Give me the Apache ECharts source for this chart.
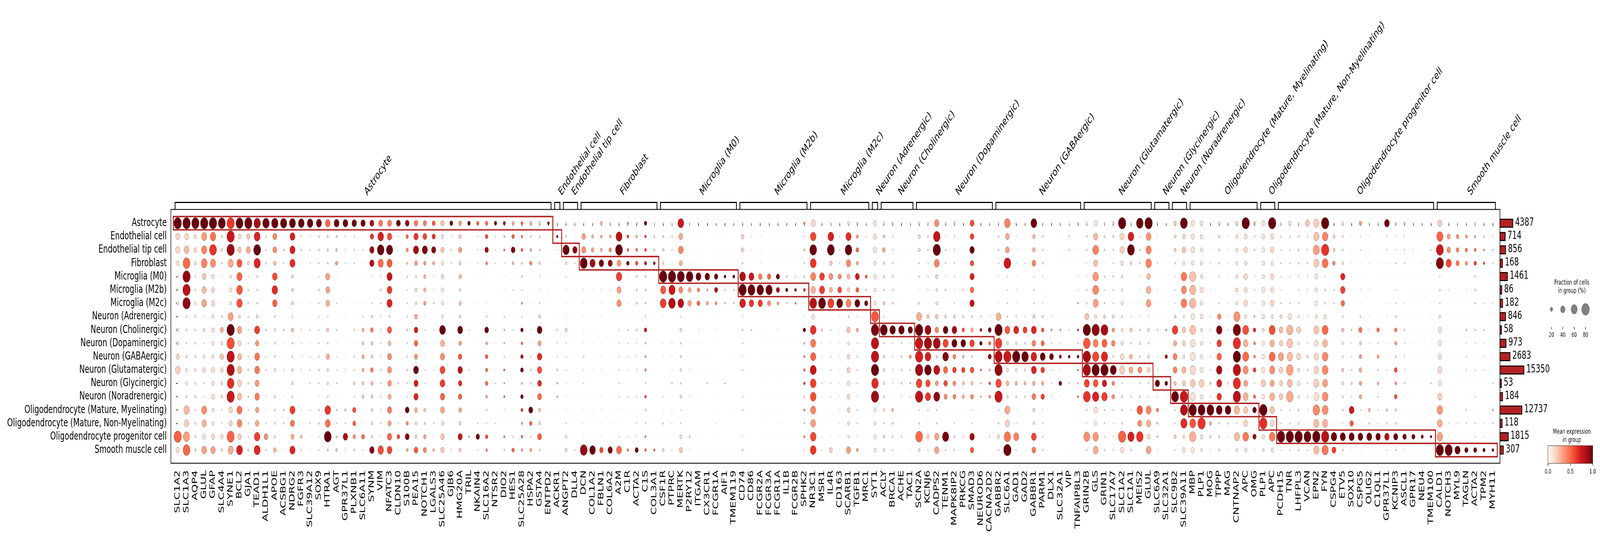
<!DOCTYPE html>
<html><head><meta charset="utf-8">
<style>html,body{margin:0;padding:0;background:#fff;overflow:hidden}#c{width:6190px;height:1378px;transform-origin:0 0}</style>
<script src="https://cdn.jsdelivr.net/npm/echarts@6/dist/echarts.min.js"></script>
</head><body><div id="c"></div>
<script>
const cellTypes=["Astrocyte","Endothelial cell","Endothelial tip cell","Fibroblast","Microglia (M0)","Microglia (M2b)","Microglia (M2c)","Neuron (Adrenergic)","Neuron (Cholinergic)","Neuron (Dopaminergic)","Neuron (GABAergic)","Neuron (Glutamatergic)","Neuron (Glycinergic)","Neuron (Noradrenergic)","Oligodendrocyte (Mature, Myelinating)","Oligodendrocyte (Mature, Non-Myelinating)","Oligodendrocyte progenitor cell","Smooth muscle cell"];
const cellCounts=[4387,714,856,168,1461,86,182,846,58,973,2683,15350,53,184,12737,118,1815,307];
const fractionTicks=[20,40,60,80];
const expressionTicks=[0,0.5,1];
const redsStops=["#fff5f0","#fee0d2","#fcbba1","#fc9272","#fb6a4a","#ef3b2c","#cb181d","#a50f15","#67000d"];

const genes0=["SLC1A2","SLC1A3","AQP4","GLUL","GFAP","SLC4A4","SYNE1","BCL2","GJA1","TEAD1","ALDH1L1","APOE","ACSBG1","NDRG2","FGFR3","SLC39A12","SOX9","HTRA1","AGT","GPR37L1","PLXNB1","SLC6A11","SYNM","VIM","NFATC3","CLDN10","S100B","PEA15","NOTCH1","LGALS3","SLC25A46","GJB6","HMG20A","TRIL","NKAIN4","SLC16A2","NTSR2","DIO2","HES1","SLC25A28","HSPA2","GSTA4","ENTPD2"];
const frac0=[
[78,36,36,25,10,8,14,6,13,16,28,45,1,7,9,7,78,28],
[78,34,45,72,78,78,78,6,7,6,10,14,14,10,54,40,63,72],
[76,18,23,14,4.5,6,10,6,6,7,6,11,9,10,5,9,7,12],
[78,49,50,58,32,38,45,2,14,3,14,23,6,2.5,49,40,25,45],
[78,54,72,50,21,25,28,16,21,18,16,27,20,25,16,16,28,42],
[72,10,14,6,1.3,0,1,7,28,14,30,23,16,13,3,2.5,21,12],
[76,78,78,50,14,20,13,49,78,78,78,78,68,78,32,27,76,50],
[72,23,30,49,50,58,54,14,42,27,36,42,36,40,49,45,32,60],
[76,28,38,16,4.5,6,6,5,3,4.5,4.5,8,7,7,5,6,3.5,10],
[65,58,72,63,7,5,6,14,49,30,45,45,36,42,30,32,54,60],
[65,5,4.5,7,.5,0,0,.5,8,1,3,3,0,2,1,3,34,3],
[65,36,34,20,45,54,42,7,12,8,7,12,1.3,12,7,8,12,23],
[63,1,6,4,.5,0,0,.5,6,1,1,3,0,1,7,6,1,1],
[60,47,49,49,14,13,14,4.5,18,7,8,12,13,6,49,36,28,50],
[56,3.5,6,1,.5,0,1,1,3,2,2,3,0,1,2,1,16,4.5],
[54,2,3,2,.5,0,1,.5,3,1,3,3,3,0,2,4,1,1],
[49,7,7,4.5,3,7,4,3,4,4,4,8,4,2,7,7,3,4],
[45,10,9,7,38,36,34,4.5,18,7,30,12,12,6,56,47,72,9],
[47,9,13,18,1,0,3,1,4,1,2,3,4,1,6,4,9,13],
[45,4.5,3,3,.5,0,.5,1,0,.5,1,3,0,0,10,6,42,3],
[42,3,3,4,.5,0,1,1,4,1,4,3,12,3,28,25,21,7],
[40,1,3,1,.5,0,1,4,18,13,20,18,14,16,1,1,25,3],
[36,30,40,40,2,0,3,10,23,16,14,23,18,14,12,12,10,42],
[36,56,68,50,4,8,6,3,3,3,4,6,4,4,3,6,3,54],
[36,42,63,49,50,45,50,8,38,25,36,36,32,28,38,28,40,45],
[36,3,1,1,.5,0,.5,0,1,.5,1,1,6,0,1,3,23,2],
[34,20,18,9,6,4,4,6,8,4,4,7,4,4,34,18,36,13],
[32,40,50,25,10,18,12,25,32,32,28,47,38,40,25,14,18,34],
[28,34,50,20,18,20,21,1,2,1,1,2,3,1,16,9,21,28],
[25,28,38,16,3,2,6,.5,3,1,.5,3,0,1,1,4,2,14],
[28,18,28,18,21,20,18,16,58,36,40,47,45,40,36,21,32,30],
[25,3,4,3,.5,0,0,.5,0,.5,.5,1,0,0,0,0,1,3],
[25,18,27,18,21,12,20,13,47,23,30,42,30,30,23,16,38,18],
[21,1,1,1,0,0,0,0,2,0,.5,3,0,1,1,0,7,.5],
[18,3,3,2,.5,0,1,0,0,.5,1,0,0,0,.5,3,30,2],
[20,21,30,14,.5,0,1,4.5,34,13,21,18,21,13,5,3,20,13],
[20,3,2,3,0,0,0,.5,2,1,.5,1,3,1,0,3,1,.5],
[18,7,9,2,1,1,.5,4,7,6,4,9,6,9,2,.5,9,6],
[16,21,34,13,.5,3,1,.5,3,.5,.5,1,0,0,0,.5,4,20],
[14,12,14,9,6,3,10,4,20,13,20,23,9,21,16,10,13,12],
[16,7,13,18,1,1,1,1,2,1,4,6,7,.5,36,21,5,16],
[16,7,7,12,3,2,6,14,45,27,42,40,34,36,18,13,36,9],
[14,.5,.5,.5,.5,1,.5,0,0,.5,.5,.5,0,0,.5,0,.5,.5]];
const expr0=[
[100,15,15,12,8,8,12,8,15,15,15,18,40,10,8,8,53,12],
[100,17,25,50,92,80,92,10,10,8,8,10,8,8,25,18,33,50],
[100,12,15,12,8,8,8,8,6,8,8,10,8,8,8,8,8,12],
[100,35,42,42,22,25,32,15,12,8,10,12,8,8,38,28,12,33],
[100,47,65,38,12,15,15,10,12,10,10,12,10,12,10,10,15,32],
[100,12,12,10,10,0,10,10,28,12,22,15,12,12,8,8,12,12],
[64,76,90,30,10,10,10,33,100,57,80,85,68,77,15,15,52,30],
[100,15,22,55,52,55,57,10,33,15,25,27,17,25,48,42,20,72],
[100,20,30,15,8,8,8,8,8,8,8,8,8,8,8,8,8,10],
[88,70,100,70,8,8,8,15,62,35,47,45,35,44,33,30,62,70],
[100,8,8,8,8,0,0,8,8,8,8,8,0,8,8,8,38,8],
[100,40,38,25,58,68,52,12,12,8,8,12,20,12,8,8,12,27],
[100,10,10,10,10,0,0,10,10,10,10,10,0,10,10,10,10,10],
[100,72,72,68,18,18,17,10,22,10,10,12,12,10,62,47,30,70],
[100,10,10,10,10,0,10,10,10,10,10,10,0,10,10,10,22,10],
[100,10,10,10,10,0,10,10,10,10,10,10,10,0,10,10,10,10],
[100,10,10,10,10,10,10,10,10,10,10,10,10,10,10,10,10,10],
[50,10,10,10,33,33,28,10,20,10,28,12,10,10,65,48,100,12],
[100,18,22,33,10,0,10,10,10,10,10,10,10,10,15,10,20,22],
[100,10,10,10,10,0,10,10,0,10,10,10,0,0,20,10,85,10],
[100,10,10,10,10,0,10,10,10,10,10,10,20,10,58,53,38,15],
[100,10,10,10,10,0,10,10,28,18,30,28,22,20,10,10,50,10],
[85,65,90,82,10,0,10,15,45,20,18,45,25,20,18,15,18,95],
[45,72,100,50,10,8,10,10,10,10,10,10,10,10,10,10,10,58],
[45,58,100,54,78,64,70,12,55,25,40,38,35,28,45,33,50,60],
[100,10,10,10,10,0,10,0,10,10,10,10,10,0,10,10,60,10],
[92,50,40,20,12,10,10,8,12,10,10,8,10,10,100,42,95,32],
[45,65,88,33,8,15,10,30,75,50,35,100,72,70,28,12,15,55],
[45,60,95,35,28,28,33,10,10,50,10,10,10,10,22,12,33,42],
[55,65,95,33,10,10,10,10,10,10,10,10,0,10,10,10,10,25],
[22,12,22,12,13,10,12,10,100,28,38,58,62,52,32,12,22,20],
[100,10,10,10,10,0,0,10,0,10,10,10,0,0,0,0,10,10],
[35,22,35,18,25,10,20,10,100,32,55,82,68,52,32,18,80,20],
[100,10,10,10,0,0,0,0,10,0,10,10,0,10,10,0,30,10],
[55,10,10,10,10,0,10,0,0,10,10,0,0,0,10,10,100,10],
[50,60,90,47,10,0,10,15,100,33,55,50,50,33,12,12,60,42],
[100,10,10,10,0,0,0,10,10,10,10,10,10,10,0,10,10,10],
[92,40,50,10,10,10,10,18,25,30,18,55,45,50,10,10,50,20],
[35,53,95,30,10,10,10,10,10,10,10,10,0,0,0,10,12,52],
[55,45,55,15,18,8,35,12,100,50,90,100,22,100,65,35,50,35],
[30,15,30,45,10,10,10,10,10,10,10,10,12,10,100,52,10,33],
[18,12,12,15,10,10,8,18,100,33,68,58,68,50,22,15,52,12],
[98,20,20,20,20,20,20,0,0,20,20,20,0,0,20,0,20,20]];

const genes1=["ACKR1"];
const frac1=[[2,12,2,1,1,0,0,1,5,3,3,7,7,7,1,0,1,1]];
const expr1=[[30,95,10,10,10,0,0,10,15,12,12,20,30,30,10,0,10,10]];

const genes2=["ANGPT2","DLL4"];
const frac2=[[7,7,63,12,4,1,1,1,18,2,3,2,1,1,1,3,14,18],[1,1,40,3,.5,.5,.5,.5,.5,.5,.5,.5,.5,.5,.5,.5,.5,3]];
const expr2=[[10,10,100,12,10,10,10,10,15,10,10,10,10,10,10,10,12,15],[10,10,95,8,10,10,10,10,10,10,10,10,10,10,10,10,10,10]];

const genes3=["DCN","COL1A2","FBLN1","COL6A2","A2M","C1R","ACTA2","C1S","COL3A1"];
const frac3=[
[4,32,38,72,.5,2,1,1,1,1,6,2,2,.5,1,1,1,72],
[1,16,23,50,.5,1,.5,.5,.5,1,1,1,0,.5,1,.5,.5,56],
[18,13,16,42,.5,2,1,1,0,.5,1,1,0,1,1,.5,1,30],
[5,14,20,38,1,2,1,1,0,.5,1,1,0,1,.5,1,1,40],
[7,60,72,36,54,36,40,1,3,2,3,4,3,3,1,.5,4,47],
[10,14,13,21,1,0,1,1,4,3,3,2,0,3,.5,0,3,11],
[7,12,16,20,7,8,8,1,7,2,2,3,0,4,.5,3,3,27],
[21,13,14,18,7,7,7,4,21,7,10,12,3,13,6,4,10,13],
[.5,6,6,14,0,.5,.5,.5,0,.5,.5,.5,0,.5,0,.5,.5,10]];
const expr3=[
[10,35,38,100,10,10,10,10,10,10,8,10,50,10,10,10,10,90],
[10,28,32,88,10,10,10,10,10,10,10,10,0,10,10,10,10,100],
[27,28,30,97,10,10,10,10,0,10,10,10,0,10,10,10,10,60],
[12,30,42,92,10,10,10,10,0,10,10,10,0,10,10,10,10,95],
[12,82,100,35,62,35,37,10,10,10,10,10,10,10,10,10,10,50],
[45,65,55,100,10,0,10,10,12,10,10,10,0,20,10,0,10,50],
[18,30,45,58,15,15,15,10,12,10,10,10,0,15,10,10,10,100],
[100,62,62,80,15,15,15,10,75,25,32,40,30,60,15,10,40,52],
[10,20,25,100,0,10,10,10,0,10,10,10,0,10,0,10,10,55]];

const genes4=["CSF1R","PTPRC","MERTK","P2RY12","ITGAM","CX3CR1","FCGR1A","AIF1","TMEM119"];
const frac4=[
[4,10,12,10,78,50,58,1,0,1,1,0,0,3,1,7,.5,14],
[2,4,4,1,78,63,68,.5,0,2,2,2,5,1,2,2,.5,2],
[58,36,45,27,72,36,56,3,16,7,8,12,6,13,2,4,18,27],
[4,1,1,1,68,25,32,0,0,1,1,2,0,3,0,0,10,2],
[1,.5,.5,.5,47,20,25,.5,2,1,.5,.5,0,.5,0,0,.5,1],
[1,0,0,0,42,10,18,0,0,0,.5,.5,3,0,0,0,0,.5],
[.5,.5,.5,.5,30,27,14,.5,1,.5,0,.5,.5,.5,.5,1,.5,.5],
[.5,.5,.5,.5,14,4.5,6,0,0,0,0,0,3,0,0,0,0,.5],
[.5,0,.5,.5,16,6,6,0,0,0,.5,0,0,0,.5,0,0,.5]];
const expr4=[
[12,12,12,10,100,55,62,10,0,10,10,0,0,10,10,8,10,15],
[10,10,10,10,100,75,85,10,0,10,10,10,10,10,10,10,10,10],
[75,30,42,27,100,40,83,10,15,10,10,10,10,12,10,10,15,20],
[12,10,10,10,100,30,33,0,0,10,10,10,0,10,0,0,12,10],
[10,10,10,10,100,42,50,10,10,10,10,10,0,10,0,0,10,10],
[10,0,0,0,100,28,30,0,0,0,10,10,50,0,0,0,0,10],
[10,10,10,10,100,85,40,10,10,10,0,10,10,10,10,10,10,10],
[10,10,10,10,100,20,25,0,0,0,0,0,50,0,0,0,0,10],
[10,0,10,10,100,15,18,0,0,0,10,0,0,0,10,0,0,10]];

const genes5=["CD74","CD86","FCGR2A","FCGR3A","FCGR1A","IL1B","FCGR2B","SPHK2"];
const frac5=[
[7,21,21,7,58,78,56,3,7,4,2,4,0,4,4,0,2,8],
[.5,2,2,.5,47,72,42,0,4,.5,.5,.5,0,.5,.5,0,.5,.5],
[1,1,1,1,32,68,40,.5,.5,.5,.5,.5,.5,.5,.5,.5,.5,.5],
[.5,.5,.5,.5,30,65,28,.5,0,.5,.5,.5,0,.5,.5,0,.5,.5],
[.5,.5,.5,.5,28,28,14,.5,1,.5,.5,.5,.5,.5,.5,.5,.5,.5],
[.5,.5,.5,.5,6,18,4,.5,0,.5,.5,.5,0,.5,0,0,.5,.5],
[.5,.5,.5,.5,4,14,8,.5,0,.5,.5,.5,0,.5,0,0,.5,.5],
[10,4,8,5,7,14,2,2,20,8,10,12,12,6,10,6,10,3]];
const expr5=[
[12,17,17,10,85,100,72,10,10,10,10,10,0,10,10,0,10,10],
[10,10,10,10,75,100,65,0,8,10,10,10,0,10,10,0,10,10],
[10,10,10,10,45,100,62,10,10,10,10,10,10,10,10,10,10,10],
[10,10,10,10,50,100,38,10,0,10,10,10,0,10,10,0,10,10],
[10,10,10,10,100,88,35,10,10,10,10,10,10,10,10,10,10,10],
[10,10,10,10,25,100,18,10,0,10,10,10,0,10,0,0,10,10],
[10,10,10,10,30,100,55,10,0,10,10,10,0,10,0,0,10,10],
[50,12,25,12,15,68,10,10,100,25,45,50,68,15,45,15,45,10]];

const genes6=["NR3C1","MSR1","IL4R","CD163","SCARB1","TGFB1","MRC1"];
const frac6=[
[40,54,70,58,49,42,70,25,56,49,50,60,56,56,49,45,56,56],
[1,1,1,0,45,49,72,0,8,1,1,1,4,1,0,0,1,2],
[4,56,72,21,36,27,60,.5,3,1,3,3,3,3,.5,.5,1,25],
[1,3,4,2,27,34,58,1,1,1,1,1,1,1,1,1,1,1],
[14,50,68,42,27,21,49,6,30,14,23,27,21,25,23,16,12,38],
[9,16,23,16,36,25,47,3,18,3,6,4,4,3,4,5,3,16],
[1,3,1,0,16,7,28,0,0,1,1,1,0,.5,1,0,1,0]];
const expr6=[
[14,60,100,65,42,28,82,10,66,45,52,78,62,58,42,33,60,65],
[10,10,10,0,62,62,100,0,20,10,10,10,10,10,0,0,10,10],
[10,72,100,20,38,28,62,10,10,10,10,10,10,10,10,10,10,18],
[10,10,10,10,42,58,100,10,10,10,10,10,10,10,10,10,10,10],
[12,68,100,40,25,18,42,10,22,8,15,18,10,15,18,10,8,35],
[20,38,50,35,75,52,100,10,32,10,10,10,10,10,10,10,10,35],
[10,10,10,0,55,18,100,0,0,10,10,10,0,10,10,0,10,0]];

const genes7=["SYT1"];
const frac7=[[28,28,28,21,21,18,20,72,78,78,78,78,68,78,20,13,20,18]];
const expr7=[[10,10,10,8,8,8,8,55,95,80,80,100,68,90,8,8,8,8]];

const genes8=["ACLY","BRCA1","ACHE","TAC1"];
const frac8=[
[10,13,23,10,10,6,14,3,72,6,12,13,12,8,10,5,13,13],
[10,5,4,7,7,5,8,1,54,2,4,3,2,1,14,8,6,5],
[1,.5,1,1,0,0,1,1,54,4,8,6,8,3,1,1,5,.5],
[1,.5,1,0,.5,0,0,1,40,2,16,4,6,3,1,0,.5,1]];
const expr8=[
[15,22,32,15,12,8,20,8,100,8,12,15,12,8,10,8,15,15],
[20,8,8,8,8,8,10,8,100,8,8,8,8,8,25,15,8,8],
[8,8,8,8,0,0,8,8,100,8,12,8,12,8,8,8,8,8],
[8,8,8,0,8,0,0,8,100,8,40,8,25,8,8,0,8,8]];

const genes9=["SCN2A","KCNJ6","CADPS2","TENM1","MAPK8IP2","PRKCG","SMAD3","NEUROD6","CACNA2D2"];
const frac9=[
[10,18,16,6,6,1,8,49,78,78,78,78,56,78,4,8,72,14],
[6,7,4,2,3,3,1,20,60,78,56,68,42,50,4,1,20,3],
[42,68,78,47,20,12,14,23,32,72,12,60,25,60,6,6,40,40],
[8,2,4,4,2,7,1,13,45,50,56,40,32,28,1,0,63,4],
[12,5,4,4,3,2,3,14,45,49,25,32,25,25,1,3,9,5],
[2,1,1,1,1,4,1,8,21,45,14,28,14,18,1,0,4,.5],
[36,32,42,30,38,32,40,7,21,42,7,32,18,25,2,4,42,30],
[1,0,1,0,1,1,1,4,14,20,1,9,6,6,.5,0,0,.5],
[2,0,0,0,0,0,0,2,25,18,27,9,13,13,0,0,5,0]];
const expr9=[
[10,15,12,5,8,8,8,30,100,78,72,90,60,80,8,8,50,12],
[8,10,8,8,8,8,8,20,90,88,72,100,58,65,8,8,15,8],
[38,78,100,42,15,10,12,20,42,88,12,80,35,92,8,5,32,32],
[10,8,8,8,8,8,8,15,100,60,95,50,58,40,8,0,98,8],
[18,8,8,8,8,8,8,18,88,100,40,62,38,40,8,8,10,8],
[10,8,8,8,8,8,8,12,55,100,25,62,25,28,8,0,8,8],
[58,62,100,58,72,50,80,10,30,62,8,58,20,38,8,8,90,55],
[8,0,8,0,8,8,8,12,95,100,8,55,28,30,8,0,0,8],
[8,0,0,0,0,0,0,8,100,52,92,28,62,38,0,0,10,0]];

const genes10=["GABBR2","SLC6A1","GAD1","GAD2","GABBR1","PARM1","DLX1","SLC32A1","VIP","TNFAIP8L3"];
const frac10=[
[7,7,7,4,2,1,1,45,78,68,78,78,54,78,4,7,18,5],
[58,34,34,70,3,3,4,5,47,14,78,18,25,13,49,40,65,78],
[4,2,1,2,1,3,1,6,47,10,78,14,18,8,1,2,49,4],
[2,1,1,3,0,0,0,2,36,8,68,10,14,6,0,0,0,1],
[58,21,23,34,4,5,5,16,47,34,56,47,21,34,14,10,45,34],
[3,7,6,7,3,1,3,10,21,28,47,32,18,30,2,4,4,5],
[.5,0,0,0,0,0,0,2,10,4,36,3,4,2,0,0,0,0],
[.5,.5,.5,.5,0,0,0,.5,8,2,18,2,23,1,0,0,0,0],
[0,5,4,.5,0,0,0,.5,3,0,14,1,3,0,0,0,0,.5],
[6,.5,1,.5,2,2,6,1,10,5,14,8,6,8,1,.5,.5,.5]];
const expr10=[
[10,8,8,8,8,8,8,28,100,62,85,92,58,77,8,8,15,8],
[42,30,33,75,8,8,8,8,55,10,75,12,25,8,30,18,47,100],
[8,8,8,8,8,8,8,5,70,10,100,12,30,8,8,8,42,8],
[8,8,8,8,0,0,0,8,62,10,100,12,28,8,0,0,0,8],
[100,27,27,42,8,8,8,20,70,42,72,70,30,45,20,12,60,45],
[8,10,8,8,8,8,8,18,58,50,100,62,30,62,8,8,8,8],
[10,0,0,0,0,0,0,10,30,10,100,10,10,10,0,0,0,0],
[10,10,10,10,0,0,0,10,40,10,90,10,100,10,0,0,0,0],
[0,15,20,10,0,0,0,10,10,0,100,10,10,0,0,0,0,10],
[30,10,10,10,10,10,40,10,70,15,100,45,25,55,10,10,10,10]];

const genes11=["GRIN2B","GLS","GRIN1","SLC17A7","SLC1A2","SLC1A1","MEIS2","GLUL"];
const frac11=[
[8,7,5,2,3,4,7,36,78,70,78,78,49,72,5,3,60,5],
[30,38,58,38,54,58,49,20,78,49,63,78,45,63,32,21,54,47],
[6,7,7,1,5,3,5,14,72,49,63,78,40,54,5,4,4,8],
[12,8,6,4,7,5,5,14,20,32,7,60,21,23,4,3,4,4],
[78,38,38,23,12,12,16,7,14,18,32,49,3,10,8,7,78,30],
[7,56,72,12,1,0,1,2,20,7,23,34,1,6,3,0,63,8],
[68,4,7,7,2,2,1,2,8,12,6,34,5,6,54,36,68,.5],
[78,47,50,56,32,42,45,4,16,7,14,25,6,4,50,40,25,45]];
const expr11=[
[8,8,8,8,8,8,8,22,100,55,88,87,60,65,8,8,38,8],
[10,25,42,22,36,40,33,10,93,42,60,100,55,72,12,8,35,30],
[8,8,8,8,8,8,8,18,88,52,70,100,75,62,8,8,8,8],
[15,10,8,8,8,8,8,15,37,42,8,100,42,38,8,8,8,8],
[100,17,18,12,8,8,8,8,10,10,14,18,30,8,8,6,52,12],
[8,72,100,15,8,0,8,8,20,10,25,30,8,8,8,0,72,8],
[100,8,8,8,8,8,8,8,10,12,8,40,8,8,55,38,65,8],
[100,37,42,42,25,28,33,8,12,8,12,15,8,8,40,28,12,33]];

const genes12=["SLC6A9","SLC32A1"];
const frac12=[
[7,2,1,3,.5,2,1,.5,4,1,2,4,40,2,18,8,8,2],
[1,.5,.5,.5,.5,.5,.5,.5,8,.5,20,1,23,1,.5,0,0,0]];
const expr12=[
[18,10,10,10,10,10,10,10,10,10,10,10,100,10,45,20,18,10],
[10,10,10,10,10,10,10,10,40,10,85,10,100,10,10,0,0,0]];

const genes13=["SLC9B2","SLC39A11"];
const frac13=[
[20,13,14,7,2,4,2,13,54,27,36,36,20,72,6,5,18,3],
[72,25,30,20,54,47,54,10,30,25,16,36,28,78,72,63,14,25]];
const expr13=[
[18,15,20,8,8,8,8,15,62,30,42,42,22,100,8,8,20,8],
[100,15,22,10,45,40,45,8,22,18,10,28,20,75,85,68,10,13]];

const genes14=["MBP","PLP1","MOG","TPPP","MAG","CNTNAP2","APC","OMG"];
const frac14=[
[30,28,32,23,63,60,63,30,58,42,47,54,45,47,78,58,65,28],
[23,21,20,20,18,27,21,23,14,20,20,27,45,21,72,78,21,13],
[1,1,1,2,1,2,0,3,3,3,3,3,10,3,72,18,10,2],
[13,10,8,7,4,0,5,30,54,42,42,54,47,42,58,7,10,9],
[2,1,1,1,1,0,1,1,3,1,1,1,7,1,56,6,2,1],
[18,14,16,14,16,20,16,63,78,78,78,78,76,78,50,3,49,14],
[78,25,30,20,30,25,34,18,60,42,60,50,36,47,38,34,56,21],
[12,5,6,0,4,4,3,9,20,14,14,23,4,18,32,.5,28,3]];
const expr14=[
[10,10,12,8,22,25,25,8,22,12,12,15,20,12,100,55,28,8],
[12,10,10,10,12,12,10,12,10,10,8,10,18,8,100,65,12,8],
[8,8,8,8,8,8,0,8,8,8,8,8,15,8,100,28,12,8],
[18,15,12,10,8,0,8,40,95,62,52,88,72,65,100,10,12,10],
[8,8,8,8,8,0,8,8,8,8,8,8,10,8,100,12,8,8],
[15,12,12,10,10,12,10,37,97,67,100,82,67,82,27,8,25,10],
[100,12,15,10,15,12,15,10,57,28,50,38,32,28,20,15,45,10],
[30,8,8,0,12,10,8,25,72,45,42,62,10,52,100,8,92,8]];

const genes15=["PLP1","APC"];
const frac15=[
[27,23,21,21,21,27,23,23,16,23,23,28,40,23,78,76,21,13],
[78,27,30,20,30,25,32,18,60,40,58,50,36,45,40,32,56,21]];
const expr15=[
[10,10,8,8,8,8,8,10,10,8,8,10,20,8,100,68,10,8],
[100,12,15,10,15,12,17,10,57,28,50,38,32,28,22,15,45,10]];

const genes16=["PCDH15","TNR","LHFPL3","VCAN","EPN2","FYN","CSPG4","ETV5","SOX10","CSPG5","OLIG2","C1QL1","GPR37L1","KCNIP3","ASCL1","GPR17","NEU4","TMEM100"];
const frac16=[
[5,4,3,4,3,2,4,16,32,28,49,32,27,32,4,3,78,2],
[20,5,4,3,3,0,4,30,63,56,54,70,45,70,4,4,78,4],
[7,7,8,7,4,4,4,10,34,13,36,18,23,13,10,8,78,8],
[36,5,4,7,3,3,0,4,0,3,12,6,5,5,2,1,72,4],
[49,49,63,47,25,20,25,16,49,30,40,42,49,47,68,49,78,49],
[78,54,78,58,3,8,7,21,58,45,56,56,47,56,58,49,78,63],
[1,14,14,21,.5,4,4,1,0,0,1,1,0,0,0,.5,54,36],
[10,7,8,12,40,42,32,5,18,10,6,16,14,8,7,3,50,7],
[1,1,1,1,.5,0,0,.5,7,2,3,4,10,3,45,30,49,1],
[21,3,3,1,1,2,1,6,28,14,21,23,21,21,3,1,45,1],
[3,1,1,1,0,1,0,1,3,1,1,0,0,0,16,7,47,.5],
[4,1,1,1,.5,0,0,1,21,4,16,5,13,4,3,2,42,1],
[45,4,4,1,.5,0,1,2,0,1,1,3,0,0,10,6,42,3],
[8,2,2,4,.5,3,3,8,20,16,6,25,14,23,10,8,38,5],
[10,3,4,4,1,0,1,1,6,2,3,3,6,1,.5,0,30,2],
[.5,.5,2,.5,.5,.5,.5,.5,.5,1,.5,.5,.5,.5,1,.5,27,.5],
[.5,.5,.5,1,.5,.5,.5,.5,.5,.5,.5,.5,.5,0,.5,.5,18,.5],
[3,.5,3,2,.5,.5,.5,.5,.5,.5,.5,.5,4,.5,.5,.5,12,.5]];
const expr16=[
[8,8,8,8,8,8,8,12,25,18,33,18,18,20,8,8,100,8],
[10,8,8,8,8,0,8,12,27,22,25,33,25,30,8,8,100,8],
[8,8,8,8,8,8,8,8,18,8,15,10,10,8,8,8,100,8],
[20,8,8,8,8,8,0,8,0,8,10,8,8,8,8,8,100,8],
[18,22,33,20,10,8,8,8,22,12,15,17,18,13,40,24,100,25],
[100,42,66,47,8,8,8,10,50,25,40,40,33,38,38,27,82,45],
[10,18,20,42,10,10,10,10,0,0,10,10,0,0,0,10,100,62],
[12,8,8,12,70,62,48,8,25,12,8,25,15,10,8,8,100,10],
[10,10,10,10,10,0,0,10,10,10,10,10,15,10,75,55,100,10],
[35,10,10,10,10,10,10,10,48,22,35,30,33,30,10,10,100,10],
[10,10,10,10,0,10,0,10,10,10,10,0,0,0,28,15,100,10],
[10,10,10,10,10,0,0,10,50,10,35,10,30,10,10,10,100,10],
[100,10,10,10,10,0,10,10,0,10,10,10,0,0,20,10,85,10],
[20,10,10,10,10,10,10,12,45,38,12,58,38,58,15,12,100,10],
[22,10,10,10,10,0,10,10,10,10,10,10,12,10,10,0,100,10],
[10,10,10,10,10,10,10,10,10,10,10,10,10,10,10,10,100,10],
[10,10,10,10,10,10,10,10,10,10,10,10,10,0,10,10,100,10],
[10,10,10,10,10,10,10,10,10,10,10,10,30,10,10,10,100,10]];

const genes17=["CALD1","NOTCH3","MYL9","TAGLN","ACTA2","TPM2","MYH11"];
const frac17=[
[35,63,73,76,3.7,7,3.5,14,28,26,28,35,26,38,55,46,53,76],
[5,28,32,50,.5,2,.5,.5,0,.5,.5,.5,0,0,.5,2,1,76],
[1,21,23,27,.5,1,1,.5,1,.5,.5,1,1,0,.5,2,.5,50],
[3,14,18,18,1,2,.5,.5,7,2,3,3,.5,.5,5,3,.5,28],
[5,10,15,21,5,7,5,.5,6,2,1,3,.5,3,.5,3,3,26],
[3,5,9,12,.5,0,2,.5,5,1,2,2,.5,.5,0,1,2,18],
[1,3,5,3,.5,.5,2,0,0,0,2,.5,3,.5,8,4,.5,14]];
const expr17=[
[18,52,75,95,8,8,8,10,12,10,12,15,10,18,35,28,33,100],
[10,33,38,60,10,10,10,10,0,10,10,10,0,0,10,10,10,100],
[10,37,42,48,10,10,10,10,10,10,10,10,10,0,10,10,10,100],
[10,38,48,42,10,10,10,10,12,10,10,10,10,10,10,10,10,100],
[18,32,48,60,15,15,15,10,12,10,10,10,10,10,10,10,10,100],
[12,22,38,55,10,0,10,10,15,10,10,10,10,10,0,10,10,100],
[10,18,20,10,10,10,10,0,0,0,10,10,10,10,30,12,10,100]];

const geneGroups=[genes0,genes1,genes2,genes3,genes4,genes5,genes6,genes7,genes8,genes9,genes10,genes11,genes12,genes13,genes14,genes15,genes16,genes17];
const fracGroups=[frac0,frac1,frac2,frac3,frac4,frac5,frac6,frac7,frac8,frac9,frac10,frac11,frac12,frac13,frac14,frac15,frac16,frac17];
const exprGroups=[expr0,expr1,expr2,expr3,expr4,expr5,expr6,expr7,expr8,expr9,expr10,expr11,expr12,expr13,expr14,expr15,expr16,expr17];

const FONT='"DejaVu Sans"';
const FS=28.5;
const genes=geneGroups.flat();
const spans=[];
const dots=[];
let cursor=0;
geneGroups.forEach((g,gi)=>{
  spans.push([cursor,cursor+g.length-1,gi,cellTypes[gi]]);
  g.forEach((name,k)=>{
    const F=fracGroups[gi][k],E=exprGroups[gi][k];
    if(F.length!==18||E.length!==18) console.error('bad row',name,F.length,E.length);
    F.forEach((f,r)=>{ if(f>0) dots.push([cursor+k,r,f,E[r]/100]); });
  });
  cursor+=g.length;
});
const geneIdx=genes.map((_,i)=>i);
const rowIdx=cellTypes.map((_,i)=>i);
const sizeOf=f=>1.13*Math.pow(f,0.75);

const X_MIN=-0.776,X_MAX=149.81,Y_MIN=-1.033,Y_MAX=17.987;
const G={left:661,top:536.4,width:5142,height:650.1};
const tick={show:true,length:7,lineStyle:{color:'#222',width:2}};

const option={
  backgroundColor:'#fff',animation:false,
  title:[
    {text:'Fraction of cells\nin group (%)',left:6076,top:709,textAlign:'center',textStyle:{fontFamily:FONT,fontSize:17.3,fontWeight:'normal',color:'#000',lineHeight:21}},
    {text:'Mean expression\nin group',left:6076,top:1091,textAlign:'center',textStyle:{fontFamily:FONT,fontSize:17.3,fontWeight:'normal',color:'#000',lineHeight:21}}
  ],
  visualMap:[{show:false,seriesIndex:0,dimension:3,min:0,max:1,inRange:{color:redsStops}}],
  grid:[
    {left:G.left,top:G.top,width:G.width,height:G.height,show:true,borderColor:'#222',borderWidth:2.5,backgroundColor:'transparent'},
    {left:G.left,top:518.5,width:G.width,height:18},
    {left:5803,top:G.top,width:150,height:G.height},
    {left:5958,top:747,width:220,height:90.6},
    {left:5989,top:1142,width:172.7,height:44.5,show:true,borderColor:'#222',borderWidth:2,backgroundColor:'transparent'}
  ],
  xAxis:[
    {gridIndex:0,type:'value',min:X_MIN,max:X_MAX,splitLine:{show:false},axisLine:{show:false},
     axisTick:Object.assign({customValues:geneIdx},tick),
     axisLabel:{customValues:geneIdx,rotate:90,margin:18,fontFamily:FONT,fontSize:FS,color:'#000',formatter:v=>genes[v]}},
    {gridIndex:1,type:'value',min:X_MIN,max:X_MAX,show:false},
    {gridIndex:2,type:'value',min:0,max:200,show:false},
    {gridIndex:3,type:'value',min:0,max:100,splitLine:{show:false},axisLine:{show:false},
     axisTick:{show:true,customValues:fractionTicks,length:6,lineStyle:{color:'#222',width:2}},
     axisLabel:{customValues:fractionTicks,margin:13,fontFamily:FONT,fontSize:16,color:'#000'}},
    {gridIndex:4,type:'value',min:0,max:1,splitLine:{show:false},axisLine:{show:false},
     axisTick:{show:true,customValues:expressionTicks,length:6,lineStyle:{color:'#222',width:2}},
     axisLabel:{customValues:expressionTicks,margin:14,fontFamily:FONT,fontSize:16,color:'#000',formatter:v=>v.toFixed(1),alignMinLabel:'center',alignMaxLabel:'center'}}
  ],
  yAxis:[
    {gridIndex:0,type:'value',inverse:true,min:Y_MIN,max:Y_MAX,splitLine:{show:false},axisLine:{show:false},
     axisTick:Object.assign({customValues:rowIdx},tick),
     axisLabel:{customValues:rowIdx,margin:16,fontFamily:FONT,fontSize:FS,color:'#000',formatter:v=>cellTypes[v]}},
    {gridIndex:1,type:'value',min:0,max:1,show:false},
    {gridIndex:2,type:'value',inverse:true,min:Y_MIN,max:Y_MAX,show:false},
    {gridIndex:3,type:'value',min:0,max:1,show:false},
    {gridIndex:4,type:'value',min:0,max:1,show:false}
  ],
  series:[
    {type:'scatter',xAxisIndex:0,yAxisIndex:0,data:dots,progressive:0,large:false,silent:true,z:3,
     symbolSize:v=>sizeOf(v[2]),itemStyle:{opacity:1,borderColor:'#555',borderWidth:0.7}},
    {type:'custom',xAxisIndex:0,yAxisIndex:0,data:spans.map(s=>s.slice(0,3)),silent:true,z:4,clip:false,
     renderItem:(p,api)=>{
       const a=api.coord([api.value(0)-0.5,api.value(2)-0.5]),b=api.coord([api.value(1)+0.5,api.value(2)+0.5]);
       return {type:'rect',shape:{x:a[0],y:a[1],width:b[0]-a[0],height:b[1]-a[1]},style:{fill:'none',stroke:'#b22222',lineWidth:3.6}};
     }},
    {type:'custom',xAxisIndex:1,yAxisIndex:1,data:spans.map(s=>s.slice(0,2)),silent:true,z:4,clip:false,
     renderItem:(p,api)=>{
       const l=api.value(0)-0.3,r=api.value(1)+0.3;
       const p0=api.coord([l,0]),p1=api.coord([l,1]),p2=api.coord([r,1]),p3=api.coord([r,0]);
       const c=api.coord([(api.value(0)+api.value(1))/2,1]);
       return {type:'group',children:[
         {type:'polyline',shape:{points:[p0,p1,p2,p3]},style:{fill:'none',stroke:'#000',lineWidth:3}},
         {type:'text',x:c[0]+21,y:507,rotation:Math.PI/4,style:{text:cellTypes[p.dataIndex],fontFamily:FONT,fontSize:FS,fill:'#000',textAlign:'left',textVerticalAlign:'bottom'}}
       ]};
     }},
    {type:'custom',xAxisIndex:2,yAxisIndex:2,data:cellCounts.map((c,i)=>[Math.sqrt(c),i,c]),silent:true,clip:false,
     renderItem:(p,api)=>{
       const a=api.coord([0,api.value(1)]),b=api.coord([api.value(0),api.value(1)]);
       const h=api.size([0,1])[1]*0.6;
       return {type:'group',children:[
         {type:'rect',shape:{x:a[0],y:a[1]-h/2,width:b[0]-a[0],height:h},style:{fill:'#b22222',stroke:'#000',lineWidth:2.6}},
         {type:'text',x:b[0]+9,y:b[1]-1.5,style:{text:String(api.value(2)),fontFamily:FONT,fontSize:FS,fill:'#000',textAlign:'left',textVerticalAlign:'middle'}}
       ]};
     }},
    {type:'scatter',xAxisIndex:3,yAxisIndex:3,data:fractionTicks.map(f=>[f,0.5]),silent:true,
     symbolSize:v=>sizeOf(v[0]),itemStyle:{color:'#808080',opacity:1,borderColor:'#555',borderWidth:0.7}},
    {type:'custom',xAxisIndex:4,yAxisIndex:4,data:[[0,1]],silent:true,
     renderItem:(p,api)=>{
       const a=api.coord([api.value(0),1]),b=api.coord([api.value(1),0]);
       return {type:'rect',shape:{x:a[0],y:a[1],width:b[0]-a[0],height:b[1]-a[1]},
         style:{fill:{type:'linear',x:0,y:0,x2:1,y2:0,colorStops:redsStops.map((c,i)=>({offset:i/(redsStops.length-1),color:c}))}}};
     }}
  ]
};
const host=document.getElementById('c');
/* the browser may cap the window below the requested 6190 px: fit the 6190x1378 layout to whatever it gives */
host.style.transform='scale('+(window.innerWidth/6190)+','+(window.innerHeight/1378)+')';
const chart=echarts.init(host,null,{renderer:'canvas',width:6190,height:1378});
chart.setOption(option);
</script></body></html>
